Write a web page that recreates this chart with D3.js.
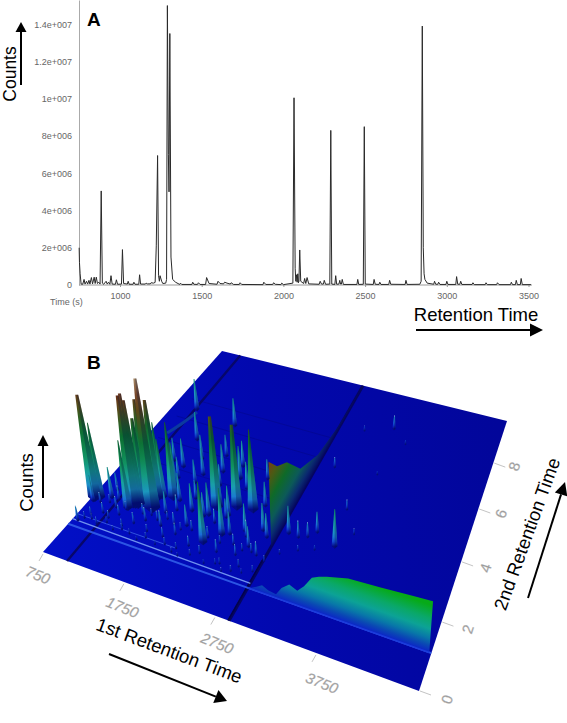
<!DOCTYPE html>
<html><head><meta charset="utf-8">
<script src="https://cdnjs.cloudflare.com/ajax/libs/d3/7.8.5/d3.min.js"></script>
<style>html,body{margin:0;padding:0;background:#fff}svg{display:block}text{font-family:"Liberation Sans",Arial,sans-serif}</style>
</head><body><svg id="c" width="567" height="723"></svg>
<script>
// Panel A: total ion chromatogram (time in s, counts in millions)
const chromTime=[750,752,756,762,772,780,786,795,802,810,816,825,832,842,848,855,862,870,878,885,892,900,915,922,930,938,945,952,972,978,985,1009,1015,1022,1045,1050,1056,1080,1085,1092,1115,1120,1126,1155,1160,1168,1185,1190,1205,1215,1222,1230,1236,1241,1245,1255,1262,1280,1285,1290,1296,1300,1305,1312,1322,1340,1365,1370,1378,1440,1445,1452,1474,1480,1490,1524,1530,1545,1594,1600,1612,1634,1640,1655,1675,1680,1695,1730,1735,1745,1875,1880,1892,1935,1940,1950,1985,1990,2000,2058,2065,2072,2076,2080,2084,2088,2092,2095,2100,2106,2124,2130,2137,2145,2155,2219,2225,2233,2245,2250,2258,2284,2290,2296,2315,2320,2326,2340,2345,2350,2355,2360,2367,2450,2455,2461,2489,2495,2501,2550,2555,2562,2585,2590,2597,2645,2650,2657,2745,2750,2757,2835,2843,2850,2856,2861,2866,2880,2920,2925,2932,2945,2950,2958,2995,3000,3007,3055,3060,3067,3080,3085,3092,3155,3160,3168,3235,3240,3248,3305,3310,3320,3390,3395,3402,3420,3425,3432,3450,3455,3462,3515];
const chromCounts=[2.0,1.2,0.6,0.05,0.04,0.3,0.05,0.2,0.05,0.25,0.05,0.4,0.06,0.42,0.08,0.42,0.08,0.15,0.05,5.05,0.1,0.04,0.2,0.05,0.15,0.04,0.5,0.05,0.04,0.28,0.04,0.05,1.9,0.08,0.05,0.2,0.04,0.04,0.15,0.04,0.04,0.55,0.05,0.05,0.1,0.06,0.06,0.12,0.1,0.14,2.1,6.95,0.5,0.2,0.5,0.2,0.08,0.1,0.3,15,7,5,13.5,1.5,0.3,0.15,0.03,0.1,0.03,0.03,0.15,0.04,0.03,0.12,0.03,0.03,0.4,0.08,0.04,0.2,0.08,0.06,0.15,0.1,0.05,0.12,0.03,0.03,0.12,0.03,0.02,0.15,0.03,0.03,0.12,0.04,0.02,0.1,0.02,0.1,10.05,0.9,0.2,0.55,0.15,0.6,0.12,0.2,1.88,0.2,0.08,0.35,0.08,0.4,0.06,0.04,0.2,0.05,0.05,0.25,0.04,0.05,8.3,0.05,0.03,0.5,0.04,0.05,0.25,0.05,0.05,0.3,0.03,0.03,0.3,0.03,0.04,8.5,0.05,0.03,0.3,0.04,0.03,0.15,0.03,0.03,0.25,0.04,0.03,0.25,0.03,0.04,0.2,13.9,2,0.6,0.3,0.1,0.04,0.2,0.04,0.04,0.15,0.03,0.03,0.2,0.03,0.03,0.45,0.04,0.04,0.2,0.03,0.03,0.12,0.02,0.02,0.12,0.02,0.02,0.12,0.02,0.02,0.15,0.02,0.02,0.25,0.02,0.02,0.35,0.02,0.02];
const countTicks=[0,2,4,6,8,10,12,14];
const countLabels=["0","2e+006","4e+006","6e+006","8e+006","1e+007","1.2e+007","1.4e+007"];
const timeTicks=[1000,1500,2000,2500,3000,3500];

// Panel B: GCxGC surface (1st retention s, 2nd retention s, counts in millions)
const firstTicks=[750,1750,2750,3750];
const secondTicks=[0,2,4,6,8];
const peakFirst=[778,1229,1255,1285,1462,1430,1308,1606,1536,1210,834,2118,2316,2498,1071,1694,1369,2213,2345,1932,2157,1457,790,955,815,1513,1703,1899,1727,2552,2730,2980,3088,3174,3240,3471,3415,3073,3494,3181,
 1340,1375,1400,1490,1170,2090,2290,
 900,1000,1100,1180,1300,1400,1500,1600,1700,1800,1900,2000,2100,2250,2400,2500,2600,2700,2800,
 950,1050,1150,1350,1550,1650,1750,1850,1950,2050,2200,2280,2420,2600,2680,2800,
 1200,1300,1500,1600,1750,1850,2000,2100,2300,2450,2600,2900,3000,3150,3300,3600,3550,3700,
 860,940,1030,1120,1240,1330,1440,1560,1640,1780,1870,1980,2060,2170,2350,2460,2560,2650,2760,2850,
 880,980,1090,1210,1420,1520,1620,1720,1820,1920,2030,2140,2230,2380,2520,2640,2740];
const peakSecond=[2.2,2.43,2.45,2.47,2.51,2.9,2.65,3.09,3.46,2.23,2.26,3.25,3.47,3.55,6.79,6.54,5.49,1.95,2.4,4.55,4.5,4.27,2.07,2.4,1.31,2.56,3.06,2.85,3.82,2.77,2.98,3.16,3.13,3.24,3.49,3.22,4.58,5.99,8.35,7.9,
 2.75,2.8,3.2,3.0,2.6,2.9,3.1,
 1.6,1.8,1.7,1.9,1.6,1.8,2,1.7,2,1.7,1.9,1.5,1.7,1.6,1.8,1.5,1.9,1.6,2.1,
 2.7,2.4,2.9,3,3.2,2.5,2.7,3.3,2.3,2.8,2.7,3,2.5,2.6,2.3,2.8,
 3.8,4.4,3.8,4.8,4.2,5.2,4,5,4.2,4.8,3.8,2,2.4,2.7,2.9,3.8,6.2,7.8,
 1.45,1.5,1.4,1.55,1.4,1.5,1.45,1.35,1.5,1.4,1.5,1.35,1.3,1.45,1.35,1.45,1.3,1.4,1.45,1.6,
 2.1,2.2,2.1,2.15,2.2,2.25,2.15,2.3,2.2,2.1,2.2,2.3,2.15,2.1,2.2,2.1,2.15];
const peakCounts=[14.6,15.4,15.7,14.8,18.4,13.9,11.7,10.7,6.3,9.6,10.6,12.9,11.7,11.4,4.3,3.9,3.9,8.6,6.6,3.9,4.6,4,3.6,4.3,2.1,6.1,3.9,3.9,3.3,3.9,3.9,3.9,2.4,2.1,2.9,5.3,1.4,1.4,1.9,0.7,
 14.2,13.4,9.6,8.2,7.4,4.6,4.2,
 1.2,1.5,1.1,1.4,1,1.6,1.9,1,2.2,1.3,1.6,0.9,1.4,1.1,1.8,0.8,1.5,1,2,
 2.5,2,2.3,2.8,2.5,3,2.2,2.6,3,3.4,2,2.7,3.2,2.4,2.9,3.4,
 2.8,3.2,3,3.4,3.8,3,3,3.6,3.8,2.8,3.4,0.8,0.6,0.8,0.7,0.8,0.5,0.6,
 0.9,0.7,1.0,0.8,0.6,0.9,0.7,0.5,0.8,0.6,1.0,0.6,0.5,0.8,0.6,0.7,0.5,0.8,0.6,0.9,
 1.4,1.1,1.6,1.2,1.5,0.9,1.3,1.1,1.7,1.0,1.4,1.2,1.6,1.1,1.5,1.0,1.3];
// ridge fin along 1st retention 2890
const finFirst=2890;
const finSecond=[2.54,2.6,3.1,3.7,4.6,5.9,7.6,10];
const finCounts=[0,11.9,9.4,7.7,3.7,1.4,0.4,0];
// late-eluting bleed wall along 2nd retention 1.1
const wallSecond=1.1;
const wallFirst=[2900,2980,3040,3100,3180,3240,3320,3400,3470,3550,3620,3700,3900,4200,4500,4680];
const wallCounts=[0,0.6,1.1,0.7,0.5,1.7,2.6,2.1,3.1,4.7,5.2,5.6,6.4,6.7,7.1,7.3];
const wallCorner=[4680,0];
const colorDomain=[0,0.4,1,2,3.5,6,10,13,15.4,18.4];
const colorRange=["#040c86","#0c2cc8","#1a6ad8","#1c94c4","#18a2a0","#10905a","#0c6a2c","#56501a","#6a3218","#a88a66"];
const arcFirst=[959,1050,1103];
const arcSecond=[5.38,6.0,6.65];
const streakSecond=[4.1,5.1,6.2,7.2];

const svg=d3.select("#c");

// ---------- Panel A ----------
const xA=d3.scaleLinear().domain([1000,3500]).range([120,528.5]);
const yA=d3.scaleLinear().domain([0,15.3]).range([285,0]);
const gray="#666";
const axL=svg.append("g").attr("transform","translate(79,0)")
 .call(d3.axisLeft(yA).tickValues(countTicks).tickSize(0).tickSizeOuter(0).tickPadding(7).tickFormat((d,i)=>countLabels[i]));
axL.select(".domain").attr("stroke","#aaa");
axL.selectAll("text").attr("font-size",9).attr("fill",gray).style("font-family",'"Liberation Sans"');
const axB=svg.append("g").attr("transform","translate(0,285)")
 .call(d3.axisBottom(xA).tickValues(timeTicks).tickSize(2).tickSizeOuter(0).tickPadding(6).tickFormat(d3.format("d")));
axB.select(".domain").attr("d","M79,0H532").attr("stroke","#999");
axB.selectAll("line").attr("stroke","#999");
axB.selectAll("text").attr("font-size",9).attr("fill",gray).style("font-family",'"Liberation Sans"');
svg.append("text").attr("x",50).attr("y",305).attr("font-size",9).attr("fill",gray).text("Time (s)");
svg.append("path").attr("fill","none").attr("stroke","#2a2a2a").attr("stroke-width",1).attr("stroke-linejoin","round")
 .attr("d",d3.line().x(d=>xA(d[0])).y(d=>yA(d[1]))(d3.zip(chromTime,chromCounts)));

function arrow(x1,y1,x2,y2,w,len,sw){
  const a=Math.atan2(y2-y1,x2-x1),bx=x2-len*Math.cos(a),by=y2-len*Math.sin(a),nx=-Math.sin(a)*w/2,ny=Math.cos(a)*w/2;
  svg.append("line").attr("x1",x1).attr("y1",y1).attr("x2",bx).attr("y2",by).attr("stroke","#000").attr("stroke-width",sw);
  svg.append("path").attr("fill","#000").attr("d",`M${x2},${y2}L${bx+nx},${by+ny}L${bx-nx},${by-ny}Z`);
}
function label(t,x,y,rot,size,anchor,extra){
  const s=svg.append("text").attr("transform",`translate(${x},${y}) rotate(${rot})`).attr("font-size",size).attr("text-anchor",anchor||"middle").attr("fill","#000").text(t);
  if(extra) extra(s); return s;
}
const bold=s=>s.attr("font-weight","bold");
label("A",87,26,0,19,"start",bold);
label("B",87,369,0,19,"start",bold);
label("Counts",16,74,-90,17.5);
arrow(21,85,21,22,11,10,2);
label("Retention Time",476,321,0,18.5);
arrow(416,330,543,330,13,13,2);

// ---------- Panel B ----------
const A=[43,552],B=[419,691],C=[507,421],D=[222,351];
const uS=d3.scaleLinear().domain([750,1750,2750,3750,4700]).range([0,.215,.457,.726,1]);
const vS=d3.scaleLinear().domain([0,2,4,6,8,10]).range([0,.255,.478,.674,.844,1]);
const zS=d3.scaleLinear().domain([0,1]).range([0,7]);
const col=d3.scaleLinear().domain(colorDomain).range(colorRange).interpolate(d3.interpolateRgb);
function proj(t1,t2){
  const u=uS(t1),v=vS(t2);
  return [(1-v)*((1-u)*A[0]+u*B[0])+v*((1-u)*D[0]+u*C[0]),
          (1-v)*((1-u)*A[1]+u*B[1])+v*((1-u)*D[1]+u*C[1])];
}
function top3(t1,t2,c){
  const p=proj(t1,t2),h=zS(c),lean=(p[0]-330)*0.00075;
  return [p[0]+h*lean,p[1]-h];
}
const defs=svg.append("defs");
const pg=defs.append("linearGradient").attr("id","plane").attr("gradientUnits","userSpaceOnUse")
 .attr("x1",43).attr("y1",552).attr("x2",507).attr("y2",500);
pg.append("stop").attr("offset",0).attr("stop-color","#0210c8");
pg.append("stop").attr("offset",.5).attr("stop-color","#0208ae");
pg.append("stop").attr("offset",1).attr("stop-color","#02069a");
const corners=[proj(750,0),proj(4700,0),proj(4700,10),proj(750,10)];
svg.append("path").attr("fill","url(#plane)").attr("d",d3.line()(corners)+"Z");

// axis ticks and labels
const tickCol="#c4c4c4",tickText="#9a9a9a";
const offA=d3.scaleLinear().domain([750,3750]).range([-7,4]);
const offB=d3.scaleLinear().domain([750,3750]).range([28,35]);
firstTicks.forEach(t=>{const p=proj(t,0);
  svg.append("line").attr("x1",p[0]).attr("y1",p[1]+2).attr("x2",p[0]-4).attr("y2",p[1]+9).attr("stroke",tickCol);
  svg.append("text").attr("transform",`translate(${p[0]+offA(t)},${p[1]+offB(t)}) rotate(22)`).attr("text-anchor","middle")
   .attr("font-size",15).attr("font-style","italic").attr("fill",tickText).attr("stroke","#bbb").attr("stroke-width",.3).text(t);
});
const offC=d3.scaleLinear().domain([0,8]).range([33,26]);
const offD=d3.scaleLinear().domain([0,8]).range([10,5]);
secondTicks.forEach(t=>{const p=proj(4700,t);
  svg.append("line").attr("x1",p[0]+1).attr("y1",p[1]).attr("x2",p[0]+12).attr("y2",p[1]+4).attr("stroke",tickCol);
  svg.append("text").attr("transform",`translate(${p[0]+offC(t)},${p[1]+offD(t)}) rotate(-72)`).attr("text-anchor","middle")
   .attr("font-size",15).attr("fill",tickText).attr("stroke","#bbb").attr("stroke-width",.3).text(t);
});

// surface streaks
const lineGen=d3.line();
function plLine(pts,color,w,op){svg.append("path").attr("fill","none").attr("stroke",color).attr("stroke-width",w).attr("opacity",op==null?1:op).attr("d",lineGen(pts));}
streakSecond.forEach(s=>plLine([proj(900,s),proj(2880,s)],"#02045c",1,.25));
plLine([proj(1048,0),proj(1048,10)],"#07076a",2.4);
plLine([proj(2890,0),proj(2890,10)],"#050560",3);
plLine([proj(2880,0),proj(2880,2)],"#03034a",1.5);
plLine([proj(750,1.1),proj(4700,1.1)],"#2c55e4",2);
plLine([proj(750,1.3),proj(2890,1.25)],"#6f92ee",1.4);
plLine([proj(750,1.5),proj(2000,1.5)],"#3c64e4",1,.8);
svg.append("path").attr("fill","none").attr("stroke","#0b3aa0").attr("stroke-width",3)
 .attr("d",d3.line().curve(d3.curveBasis)(arcFirst.map((t,i)=>proj(t,arcSecond[i]))));

// ridge fin
const finBase=finSecond.map(s=>proj(finFirst,s));
const finTop=finSecond.map((s,i)=>top3(finFirst,s,finCounts[i]));
const fb=finBase[0],fe=finBase[finBase.length-1];
const dl=Math.hypot(fe[0]-fb[0],fe[1]-fb[1]),nx=(fe[1]-fb[1])/dl,ny=-(fe[0]-fb[0])/dl;
const finG=defs.append("linearGradient").attr("id","fin").attr("gradientUnits","userSpaceOnUse")
 .attr("x1",fb[0]).attr("y1",fb[1]).attr("x2",fb[0]+nx*44).attr("y2",fb[1]+ny*44);
[[0,"#050a60"],[.12,"#0a2a70"],[.3,"#0c5a58"],[.55,"#0e6a28"],[.8,"#4c5a14"],[1,"#7a3c12"]].forEach(s=>finG.append("stop").attr("offset",s[0]).attr("stop-color",s[1]));
svg.append("path").attr("fill","url(#fin)").attr("d",lineGen(finBase.concat(finTop.slice().reverse()))+"Z");

// spikes, back to front
const peaks=peakFirst.map((t,i)=>({t1:t,t2:peakSecond[i],c:peakCounts[i],i}));
peaks.sort((a,b)=>d3.descending(a.t2,b.t2));
const fracs=d3.range(0,1.01,.125);
peaks.forEach(p=>{
  const b=proj(p.t1,p.t2),a=top3(p.t1,p.t2,p.c),h=zS(p.c),w=1.6+h*.115,tw=h>80?1.5:.4;
  const id="pk"+p.i;
  const g=defs.append("linearGradient").attr("id",id).attr("gradientUnits","userSpaceOnUse")
    .attr("x1",b[0]).attr("y1",b[1]).attr("x2",a[0]).attr("y2",a[1]);
  fracs.forEach(f=>g.append("stop").attr("offset",f).attr("stop-color",(f===1&&p.c<2.5)?"#c0d8ff":col(f*p.c)));
  const L=[b[0]-w/2,b[1]],R=[b[0]+w/2,b[1]],M=[b[0],b[1]+1+h*.04],TL=[a[0]-tw,a[1]],TR=[a[0]+tw,a[1]];
  svg.append("path").attr("fill",`url(#${id})`).attr("d",lineGen([L,TL,TR,R,M])+"Z");
  svg.append("path").attr("fill","#00103a").attr("opacity",.3).attr("d",lineGen([[a[0],a[1]],TR,R,M])+"Z");
});

// bleed wall
const wallBase=wallFirst.map(t=>proj(t,wallSecond));
const wallTop=wallFirst.map((t,i)=>top3(t,wallSecond,wallCounts[i]));
const w0=wallBase[0],w1=wallBase[wallBase.length-1];
const wl=Math.hypot(w1[0]-w0[0],w1[1]-w0[1]),wx=(w1[1]-w0[1])/wl,wy=-(w1[0]-w0[0])/wl;
const wallG=defs.append("linearGradient").attr("id","wall").attr("gradientUnits","userSpaceOnUse")
 .attr("x1",w0[0]).attr("y1",w0[1]).attr("x2",w0[0]+wx*45).attr("y2",w0[1]+wy*45);
[[0,"#0c24c8"],[.14,"#0a48b4"],[.3,"#0878a8"],[.5,"#0ca296"],[.72,"#0aa868"],[1,"#06aa18"]].forEach(s=>wallG.append("stop").attr("offset",s[0]).attr("stop-color",s[1]));
svg.append("path").attr("fill","url(#wall)").attr("d",lineGen(wallBase.concat(wallTop.slice().reverse()))+"Z");
plLine([proj(2890,wallSecond),proj(wallCorner[0],wallSecond)],"#1c3cdc",1.6);

// B labels
label("Counts",33,482.5,-90,18.5);
arrow(43,498,43,435,11,11,2);
label("1st Retention Time",167,656.5,20.5,18.5);
arrow(109,654,227,701,14,12,2);
label("2nd Retention Time",533,536,-70,18.5);
arrow(528,598,565,482,13,13,2);
</script></body></html>
